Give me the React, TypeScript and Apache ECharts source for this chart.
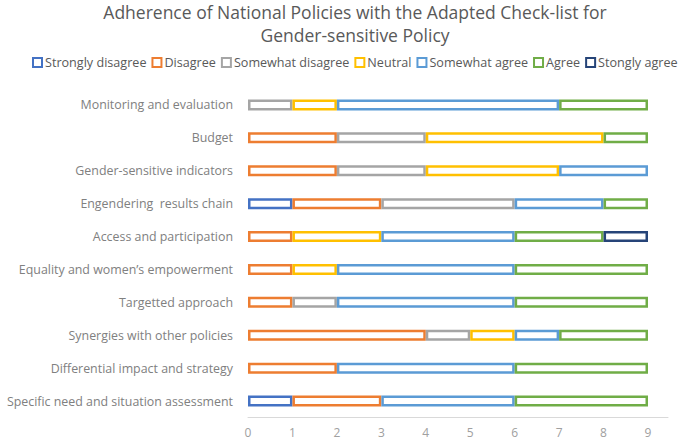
import React, { useEffect, useRef } from "react";
import * as echarts from "echarts";

const categories = [
  "Monitoring and evaluation",
  "Budget",
  "Gender-sensitive indicators",
  "Engendering  results chain",
  "Access and participation",
  "Equality and women\u2019s empowerment",
  "Targetted approach",
  "Synergies with other policies",
  "Differential impact and strategy",
  "Specific need and situation assessment",
];

const seriesNames = [
  "Strongly disagree",
  "Disagree",
  "Somewhat disagree",
  "Neutral",
  "Somewhat agree",
  "Agree",
  "Stongly agree",
];

const stronglyDisagree = [0, 0, 0, 1, 0, 0, 0, 0, 0, 1];
const disagree = [0, 2, 2, 2, 1, 1, 1, 4, 2, 2];
const somewhatDisagree = [1, 2, 2, 3, 0, 0, 1, 1, 0, 0];
const neutral = [1, 4, 3, 0, 2, 1, 0, 1, 0, 0];
const somewhatAgree = [5, 0, 2, 2, 3, 4, 4, 1, 4, 3];
const agree = [2, 1, 0, 1, 2, 3, 3, 2, 3, 3];
const stronglyAgree = [0, 0, 0, 0, 1, 0, 0, 0, 0, 0];

const xTicks = [0, 1, 2, 3, 4, 5, 6, 7, 8, 9];

const colors = ["#4472C4", "#ED7D31", "#A5A5A5", "#FFC000", "#5B9BD5", "#70AD47", "#264478"];

const allValues = [stronglyDisagree, disagree, somewhatDisagree, neutral, somewhatAgree, agree, stronglyAgree];

export default function App() {
  const ref = useRef<HTMLDivElement>(null);
  useEffect(() => {
    if (!ref.current) return;
    const chart = echarts.init(ref.current, null, { renderer: "svg" });
    const font = "Open Sans";
    chart.setOption({
      animation: false,
      backgroundColor: "#ffffff",
      title: {
        text: "Adherence of National Policies with the Adapted Check-list for\nGender-sensitive Policy",
        left: 355,
        top: 0,
        padding: 0,
        textAlign: "center",
        textStyle: {
          fontFamily: font,
          fontSize: 17.5,
          fontWeight: "normal",
          color: "#595959",
          lineHeight: 23,
        },
      },
      legend: {
        top: 56,
        left: 32,
        width: 660,
        padding: 0,
        itemWidth: 9,
        itemHeight: 9,
        itemGap: 5,
        icon: "rect",
        data: seriesNames,
        textStyle: { fontFamily: font, fontSize: 12.6, color: "#595959", padding: [0, 0, 0, -2] },
      },
      grid: { left: 248, right: 17, top: 88.5, bottom: 22.5, containLabel: false },
      xAxis: {
        type: "value",
        min: xTicks[0],
        max: 9.45,
        interval: 1,
        axisLine: { show: true, lineStyle: { color: "#D9D9D9", width: 1 } },
        axisTick: { show: false },
        splitLine: { show: false },
        axisLabel: {
          fontFamily: font,
          fontSize: 12,
          color: "#A0A0A0",
          margin: 9,
          formatter: (v: number) => (xTicks.indexOf(v) >= 0 ? String(v) : ""),
        },
      },
      yAxis: {
        type: "category",
        inverse: true,
        data: categories,
        axisLine: { show: false },
        axisTick: { show: false },
        axisLabel: { fontFamily: font, fontSize: 12.4, color: "#808080", margin: 15 },
      },
      series: seriesNames.map((name, i) => ({
        name,
        type: "bar",
        stack: "total",
        barWidth: 11,
        data: allValues[i].map((v) => (v === 0 ? null : v)),
        itemStyle: { color: "#ffffff", borderColor: colors[i], borderWidth: 2.5 },
        emphasis: { disabled: true },
      })),
    });
    return () => chart.dispose();
  }, []);
  return <div ref={ref} style={{ width: 685, height: 440, position: "absolute", left: 0, top: 0 }} />;
}
